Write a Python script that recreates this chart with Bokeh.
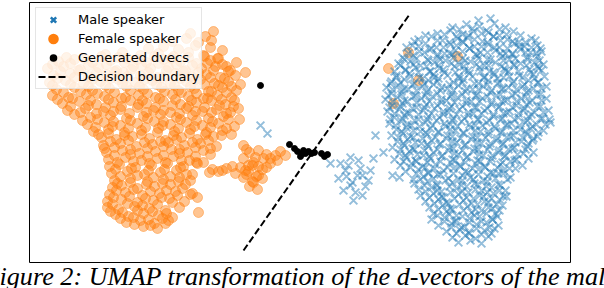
from bokeh.plotting import figure
from bokeh.models import Range1d, Legend, LegendItem, ColumnDataSource, Title
from bokeh.embed import file_html
from bokeh.resources import INLINE

# ---- data (UMAP coordinates) ----
female_x = [
    190, 205, 213,
    172, 186, 198, 211,
    148, 163, 178, 195, 210, 222,
    105, 122, 140, 158, 173, 188, 203, 217,
    58, 74, 92, 110, 127, 146, 163, 180, 196, 210, 226,
    47, 63, 80, 98, 116, 133, 150, 168, 185, 201, 215, 230, 245,
    53, 70, 88, 106, 123, 140, 157, 175, 191, 206, 220, 235,
    49, 65, 83, 100, 118, 135, 152, 170, 186, 200, 214, 228, 240,
    56, 74, 92, 109, 126, 143, 161, 178, 194, 208, 222, 236,
    52, 68, 86, 104, 121, 138, 155, 172, 188, 203, 217, 231,
    62, 79, 96, 113, 130, 146, 163, 180, 196, 211, 225, 238,
    67, 85, 103, 120, 137, 153, 170, 186, 202, 216, 230,
    74, 90, 110, 126, 143, 160, 176, 192, 208, 223, 239,
    87, 104, 120, 137, 154, 170, 186, 202, 218, 234,
    93, 108, 124, 141, 158, 174, 190, 206, 222,
    101, 116, 132, 149, 165, 181, 197, 213, 231,
    103, 120, 136, 152, 168, 184, 200, 216, 243,
    106, 122, 139, 155, 171, 187, 203, 249, 258, 266, 275,
    108, 125, 141, 157, 173, 189, 203, 243, 253, 263, 285,
    109, 119, 135, 151, 167, 183, 196, 212, 226, 240, 252, 266, 277,
    111, 127, 144, 160, 176, 192, 209, 222, 235, 248, 258,
    114, 130, 147, 163, 179, 190, 243, 252, 262,
    112, 121, 137, 154, 170, 185, 249, 257,
    109, 125, 142, 159, 175, 190,
    107, 121, 137, 153, 169, 184, 197,
    107, 118, 134, 149, 165, 179,
    115, 128, 143, 158, 172, 198,
    126, 140, 154, 168,
    143, 157,
    408, 388, 418, 393, 457,
]
female_y = [
    33, 36, 31,
    41, 38, 42, 40,
    48, 46, 49, 45, 47, 50,
    54, 52, 55, 53, 56, 52, 55, 58,
    61, 59, 62, 60, 58, 62, 59, 61, 63, 60, 66,
    68, 66, 69, 67, 70, 66, 68, 67, 70, 68, 66, 70, 72,
    75, 73, 76, 74, 72, 75, 77, 73, 76, 74, 77, 75,
    82, 80, 83, 81, 79, 82, 80, 83, 81, 79, 83, 81, 84,
    89, 87, 90, 88, 86, 89, 87, 90, 88, 91, 87, 90,
    95, 97, 94, 96, 98, 95, 97, 94, 96, 98, 95, 97,
    103, 101, 104, 102, 100, 103, 101, 104, 102, 100, 104, 108,
    110, 108, 111, 109, 107, 110, 112, 108, 111, 109, 112,
    114, 117, 115, 118, 116, 114, 117, 115, 118, 116, 119,
    124, 122, 125, 123, 121, 124, 122, 125, 123, 126,
    131, 129, 132, 130, 128, 131, 129, 132, 130,
    137, 139, 136, 138, 140, 137, 139, 136, 134,
    145, 143, 146, 144, 142, 145, 143, 146, 145,
    152, 150, 153, 151, 149, 152, 150, 152, 150, 154, 155,
    159, 157, 160, 158, 156, 160, 162, 158, 162, 158, 155,
    166, 164, 167, 165, 163, 166, 162, 169, 168, 167, 165, 167, 160,
    173, 171, 174, 172, 170, 174, 172, 170, 173, 171, 175,
    180, 178, 181, 179, 177, 180, 177, 181, 178,
    187, 185, 188, 186, 184, 184, 186, 189,
    194, 192, 195, 193, 191, 194,
    201, 199, 202, 200, 198, 201, 197,
    207, 209, 206, 208, 210, 207,
    214, 216, 213, 215, 217, 212,
    222, 220, 223, 220,
    226, 228,
    52, 68, 80, 103, 56,
]
female_x2 = [
    66, 84, 101, 118, 137, 154, 171, 188, 204, 218,
    52, 70, 88, 106, 124, 141, 158, 176, 192, 207, 222, 236,
    60, 78, 96, 114, 131, 148, 166, 183, 198, 213, 228,
    57, 74, 92, 110, 127, 144, 162, 180, 195, 210, 224,
    52, 70, 88, 105, 122, 139, 156, 174, 190, 204, 218, 231,
    63, 80, 97, 114, 130, 147, 164, 181, 196, 211, 226,
    57, 72, 90, 108, 125, 142, 159, 175, 191, 207, 221, 234,
    70, 88, 105, 121, 138, 155, 172, 188, 204, 219, 233,
    80, 96, 113, 129, 146, 163, 179, 195, 211, 226,
    82, 97, 113, 130, 147, 163, 180, 196, 212, 228,
    95, 112, 128, 145, 162, 178, 194, 210, 226,
    98, 108, 124, 141, 157, 173, 189, 205, 221,
    110, 128, 144, 160, 176, 192, 208,
    104, 114, 130, 147, 163, 179, 195, 210, 246,
    114, 130, 147, 163, 179, 195, 210, 255, 270, 280,
    117, 133, 149, 165, 181, 197, 248, 258, 270,
    115, 131, 148, 164, 180, 218, 232, 245, 262,
    120, 137, 153, 170, 186, 246, 256,
    117, 130, 146, 162, 178, 253,
    116, 133, 150, 166, 182,
    113, 129, 145, 161, 177, 192,
    112, 127, 142, 157, 172,
    110, 122, 137, 152, 166,
    120, 133, 148, 162,
    134, 150, 165,
]
female_y2 = [
    57, 58, 56, 57, 59, 56, 58, 57, 56, 58,
    64, 63, 65, 64, 62, 65, 63, 64, 65, 63, 64, 62,
    71, 70, 72, 71, 69, 72, 70, 71, 72, 70, 71,
    78, 77, 79, 78, 76, 79, 77, 78, 79, 77, 78,
    85, 84, 86, 85, 83, 86, 84, 85, 86, 84, 85, 86,
    92, 91, 93, 92, 90, 93, 91, 92, 93, 91, 92,
    99, 98, 100, 99, 97, 100, 98, 99, 100, 98, 99, 100,
    106, 105, 107, 106, 104, 107, 105, 106, 107, 105, 106,
    112, 113, 111, 113, 112, 110, 113, 111, 112, 113,
    120, 119, 121, 120, 118, 121, 119, 120, 121, 119,
    127, 126, 128, 127, 125, 128, 126, 127, 128,
    134, 133, 135, 134, 132, 135, 133, 134, 135,
    141, 140, 142, 141, 139, 142, 140,
    148, 147, 149, 148, 146, 149, 147, 148, 149,
    155, 154, 156, 155, 153, 156, 154, 157, 158, 151,
    162, 161, 163, 162, 160, 163, 165, 166, 163,
    169, 168, 170, 169, 167, 171, 166, 170, 169,
    176, 175, 177, 176, 174, 174, 176,
    183, 182, 184, 183, 181, 182,
    190, 189, 191, 190, 188,
    197, 196, 198, 197, 195, 193,
    204, 203, 205, 204, 202,
    211, 212, 210, 211, 213,
    218, 217, 219, 218,
    224, 225, 223,
]

male_x = [
    260, 267, 330,
    375, 383, 373, 350, 345, 357, 368, 343, 355, 362, 353, 340, 348, 360, 338, 352, 365, 346, 358, 370, 350, 362,
    478, 490,
    452, 466, 479, 494, 505,
    437, 450, 462, 473, 488, 499, 513,
    418, 431, 442, 457, 467, 482, 493, 507, 518, 531,
    412, 425, 436, 450, 463, 474, 488, 499, 514, 524, 537,
    419, 429, 444, 455, 469, 480, 495, 505, 520, 530, 541,
    402, 413, 427, 437, 452, 462, 477, 487, 502, 512, 527, 537,
    398, 410, 420, 434, 445, 459, 470, 484, 495, 509, 520, 534, 543,
    405, 415, 429, 439, 454, 464, 479, 489, 504, 514, 529, 538,
    396, 409, 419, 433, 444, 458, 469, 483, 494, 508, 519, 533, 544,
    391, 404, 414, 428, 438, 453, 463, 478, 488, 503, 513, 528, 538,
    386, 398, 408, 422, 433, 447, 458, 472, 483, 497, 508, 522, 533, 546,
    391, 401, 415, 426, 440, 451, 465, 476, 490, 501, 515, 526, 540,
    385, 397, 407, 421, 432, 446, 457, 471, 482, 496, 507, 521, 532, 546,
    392, 402, 416, 426, 441, 451, 466, 476, 491, 501, 516, 526, 540,
    387, 399, 409, 423, 434, 448, 459, 473, 484, 498, 509, 523, 534, 548,
    394, 404, 418, 428, 443, 453, 468, 478, 493, 503, 518, 528, 542,
    389, 401, 411, 425, 436, 450, 461, 475, 486, 500, 511, 525, 536, 550,
    396, 406, 420, 430, 445, 455, 470, 480, 495, 505, 520, 530, 543,
    391, 403, 413, 427, 438, 452, 463, 477, 488, 502, 513, 527, 537,
    397, 407, 421, 431, 446, 456, 471, 481, 496, 506, 521, 532,
    392, 404, 414, 428, 439, 453, 464, 478, 489, 503, 514, 527,
    399, 409, 423, 433, 448, 458, 473, 483, 498, 508, 523, 533,
    394, 406, 416, 430, 441, 455, 466, 480, 491, 505, 516, 528,
    400, 411, 425, 435, 450, 460, 475, 485, 500, 510, 522,
    405, 418, 428, 443, 453, 468, 478, 493, 503, 515,
    392, 399, 413, 423, 437, 448, 462, 473, 487, 498, 510,
    414, 427, 437, 452, 462, 477, 487, 500,
    418, 431, 441, 456, 466, 481, 491, 505,
    420, 433, 443, 458, 468, 483, 493, 506,
    425, 438, 448, 463, 473, 488, 499,
    429, 442, 452, 467, 477, 492, 502,
    433, 446, 456, 471, 481, 495,
    431, 444, 454, 469, 479, 492,
    438, 451, 461, 476, 486, 498,
    446, 459, 469, 484, 494,
    452, 465, 475, 488,
    458, 470, 481,
]
male_y = [
    125, 133, 163,
    135, 152, 158, 157, 170, 175, 180, 190, 192, 195, 200, 163, 165, 168, 178, 182, 186, 176, 160, 170, 185, 175,
    20, 18,
    27, 24, 26, 23, 27,
    33, 30, 34, 31, 32, 35, 31,
    39, 36, 40, 38, 37, 41, 36, 39, 42, 38,
    45, 43, 47, 44, 42, 46, 44, 47, 43, 46, 45,
    51, 49, 53, 50, 48, 52, 50, 53, 49, 52, 51,
    57, 55, 59, 56, 54, 58, 55, 59, 56, 53, 57, 56,
    63, 61, 65, 62, 60, 64, 61, 65, 62, 59, 63, 62, 64,
    69, 67, 71, 68, 66, 70, 67, 71, 68, 65, 69, 68,
    75, 73, 77, 74, 72, 76, 73, 77, 74, 71, 75, 74, 76,
    81, 79, 83, 80, 78, 82, 79, 83, 80, 77, 81, 80, 82,
    87, 85, 89, 86, 84, 88, 85, 89, 86, 83, 87, 86, 88, 86,
    93, 91, 95, 92, 90, 94, 91, 95, 92, 89, 93, 92, 94,
    99, 97, 101, 98, 96, 100, 97, 101, 98, 95, 99, 98, 100, 98,
    105, 103, 107, 104, 102, 106, 103, 107, 104, 101, 105, 104, 106,
    111, 109, 113, 110, 108, 112, 109, 113, 110, 107, 111, 110, 112, 110,
    117, 115, 119, 116, 114, 118, 115, 119, 116, 113, 117, 116, 118,
    123, 121, 125, 122, 120, 124, 121, 125, 122, 119, 123, 122, 124, 122,
    129, 127, 131, 128, 126, 130, 127, 131, 128, 125, 129, 128, 130,
    135, 133, 137, 134, 132, 136, 133, 137, 134, 131, 135, 134, 136,
    141, 139, 143, 140, 138, 142, 139, 143, 140, 137, 141, 140,
    147, 145, 149, 146, 144, 148, 145, 149, 146, 143, 147, 146,
    153, 151, 155, 152, 150, 154, 151, 155, 152, 149, 153, 152,
    159, 157, 161, 158, 156, 160, 157, 161, 158, 155, 159, 158,
    165, 163, 167, 164, 162, 166, 163, 167, 164, 161, 165,
    171, 169, 173, 170, 168, 172, 169, 173, 170, 168,
    175, 177, 179, 176, 174, 178, 175, 179, 176, 173, 177,
    183, 181, 185, 182, 180, 184, 181, 185,
    189, 187, 191, 188, 186, 190, 187, 190,
    195, 193, 197, 194, 192, 196, 193, 196,
    201, 199, 203, 200, 198, 202, 199,
    207, 205, 209, 206, 204, 208, 205,
    213, 211, 215, 212, 210, 213,
    219, 217, 221, 218, 216, 219,
    225, 223, 227, 224, 222, 225,
    231, 229, 233, 230, 228,
    237, 235, 238, 236,
    242, 240, 243,
]
male_x2 = [
    459, 472, 486, 499,
    425, 444, 456, 468, 481, 493, 506, 520,
    414, 437, 449, 462, 474, 487, 500, 512, 525, 535,
    406, 418, 431, 443, 456, 469, 481, 494, 507, 519, 531, 540,
    408, 424, 437, 449, 462, 475, 487, 500, 512, 525, 536,
    404, 416, 428, 440, 453, 465, 478, 490, 503, 515, 527, 539,
    400, 413, 426, 438, 451, 463, 476, 488, 501, 513, 526, 537,
    394, 405, 418, 430, 443, 455, 468, 480, 493, 505, 518, 530, 541,
    396, 410, 422, 434, 447, 459, 472, 484, 497, 509, 522, 534,
    390, 400, 412, 424, 437, 449, 462, 474, 487, 499, 512, 524, 537,
    392, 404, 416, 428, 441, 453, 466, 478, 491, 503, 516, 528, 541,
    388, 401, 413, 425, 437, 450, 462, 475, 487, 500, 512, 525, 537,
    392, 404, 416, 429, 441, 454, 466, 479, 491, 504, 516, 529, 541,
    389, 400, 412, 424, 437, 449, 462, 474, 487, 499, 512, 524, 537,
    394, 406, 418, 431, 443, 456, 468, 481, 493, 506, 518, 531, 543,
    390, 402, 414, 427, 439, 452, 464, 477, 489, 502, 514, 527, 540, 549,
    395, 407, 419, 432, 444, 457, 469, 482, 494, 507, 519, 532, 545,
    401, 413, 425, 438, 450, 463, 475, 488, 500, 513, 525, 538,
    398, 410, 422, 435, 447, 460, 472, 485, 497, 510, 522, 533,
    403, 415, 427, 440, 452, 465, 477, 490, 502, 515, 528,
    400, 412, 424, 437, 449, 462, 474, 487, 499, 512, 525,
    405, 417, 429, 442, 454, 467, 479, 492, 504, 517,
    403, 415, 427, 440, 452, 465, 477, 490, 502, 514,
    410, 422, 434, 447, 459, 472, 484, 497, 509,
    416, 428, 440, 453, 465, 478, 490, 503,
    420, 433, 445, 458, 470, 483, 495, 507,
    424, 436, 449, 461, 474, 486, 498,
    425, 437, 450, 462, 475, 487, 499,
    429, 441, 454, 466, 479, 491, 503,
    434, 446, 459, 471, 484, 496,
    438, 450, 463, 475, 488, 499,
    437, 449, 462, 474, 486, 497,
    444, 456, 469, 481, 492,
    451, 464, 476, 489,
    456, 468, 481, 491,
]
male_y2 = [
    29, 28, 30, 29,
    35, 34, 36, 35, 33, 36, 34, 35,
    41, 40, 42, 41, 39, 42, 40, 41, 42, 40,
    47, 46, 48, 47, 45, 48, 46, 47, 48, 46, 47, 48,
    53, 52, 54, 53, 51, 54, 52, 53, 54, 52, 53,
    59, 58, 60, 59, 57, 60, 58, 59, 60, 58, 59, 60,
    65, 64, 66, 65, 63, 66, 64, 65, 66, 64, 65, 66,
    71, 70, 72, 71, 69, 72, 70, 71, 72, 70, 71, 72, 70,
    77, 76, 78, 77, 75, 78, 76, 77, 78, 76, 77, 78,
    83, 82, 84, 83, 81, 84, 82, 83, 84, 82, 83, 84, 82,
    89, 88, 90, 89, 87, 90, 88, 89, 90, 88, 89, 90, 88,
    95, 94, 96, 95, 93, 96, 94, 95, 96, 94, 95, 96, 94,
    101, 100, 102, 101, 99, 102, 100, 101, 102, 100, 101, 102, 100,
    107, 106, 108, 107, 105, 108, 106, 107, 108, 106, 107, 108, 106,
    113, 112, 114, 113, 111, 114, 112, 113, 114, 112, 113, 114, 112,
    119, 118, 120, 119, 117, 120, 118, 119, 120, 118, 119, 120, 118, 119,
    125, 124, 126, 125, 123, 126, 124, 125, 126, 124, 125, 126, 124,
    131, 130, 132, 131, 129, 132, 130, 131, 132, 130, 131, 132,
    137, 136, 138, 137, 135, 138, 136, 137, 138, 136, 137, 138,
    143, 142, 144, 143, 141, 144, 142, 143, 144, 142, 143,
    149, 148, 150, 149, 147, 150, 148, 149, 150, 148, 149,
    155, 154, 156, 155, 153, 156, 154, 155, 156, 154,
    161, 160, 162, 161, 159, 162, 160, 161, 162, 160,
    167, 166, 168, 167, 165, 168, 166, 167, 168,
    173, 172, 174, 173, 171, 174, 172, 173,
    179, 178, 180, 179, 177, 180, 178, 179,
    185, 184, 186, 185, 183, 186, 184,
    191, 190, 192, 191, 189, 192, 190,
    197, 196, 198, 197, 195, 198, 196,
    203, 202, 204, 203, 201, 204,
    209, 208, 210, 209, 207, 210,
    215, 214, 216, 215, 213, 216,
    221, 220, 222, 221, 219,
    227, 226, 228, 227,
    233, 232, 234, 233,
]

gen_x = [260, 289, 294, 297, 300, 302, 303, 305, 308, 311, 314, 321, 324, 327]
gen_y = [85, 144, 148, 151, 156, 153, 150, 153, 151, 153, 152, 153, 156, 154]

boundary_x = [243, 409]
boundary_y = [250, 14]

labels = ["Male speaker", "Female speaker", "Generated dvecs", "Decision boundary"]
caption = "Figure 2: UMAP transformation of the d-vectors of the male and female speakers"

BLUE = "#1f77b4"
ORANGE = "#ff7f0e"

fx = female_x + female_x2
fy = female_y + female_y2
nf = min(len(fx), len(fy))
mx = male_x + male_x2
my = male_y + male_y2
nm = min(len(mx), len(my))

p = figure(width=604, height=288, output_backend="svg", toolbar_location=None,
           x_range=Range1d(29, 570), y_range=Range1d(262, 2),
           min_border_left=29, min_border_right=34, min_border_top=2, min_border_bottom=26)
p.xaxis.visible = False
p.yaxis.visible = False
p.xgrid.visible = False
p.ygrid.visible = False
p.outline_line_color = "black"
p.outline_line_width = 1
p.background_fill_color = "white"
p.border_fill_color = "white"

p.scatter(fx[:nf], fy[:nf], marker="circle", size=10, fill_color=ORANGE, line_color=ORANGE,
          fill_alpha=0.45, line_alpha=0.45, line_width=1)
p.scatter(mx[:nm], my[:nm], marker="x", size=11, line_color=BLUE, line_alpha=0.48, line_width=2)
p.scatter(gen_x, gen_y, marker="circle", size=6, fill_color="black", line_color="black")
p.line(boundary_x, boundary_y, line_color="black", line_width=2, line_dash="7 3")

# legend handles (full opacity, drawn off-range)
off = ColumnDataSource(data=dict(x=[-1000], y=[-1000]))
h1 = p.scatter("x", "y", source=off, marker="x", line_color=BLUE, line_width=2.5)
h2 = p.scatter("x", "y", source=off, marker="circle", fill_color=ORANGE, line_color=ORANGE, line_width=3)
h3 = p.scatter("x", "y", source=off, marker="circle", fill_color="black", line_color=None)
h4 = p.line("x", "y", source=off, line_color="black", line_width=2, line_dash="7 3")

legend = Legend(items=[LegendItem(label=labels[0], renderers=[h1]),
                       LegendItem(label=labels[1], renderers=[h2]),
                       LegendItem(label=labels[2], renderers=[h3]),
                       LegendItem(label=labels[3], renderers=[h4])],
                location=(6, 173), margin=0, padding=2, spacing=0,
                glyph_height=19, label_height=19, glyph_width=30, label_standoff=10,
                label_text_font="DejaVu Sans", label_text_font_size="13px", label_text_color="black",
                border_line_color="#cccccc", border_line_width=1,
                background_fill_color="white", background_fill_alpha=0.8)
p.add_layout(legend)

p.add_layout(Title(text=caption, align="left", offset=-46, standoff=-6,
                   text_font="Liberation Serif", text_font_style="italic",
                   text_font_size="26.2px", text_color="black"), "below")

open("out.html", "w").write(file_html(p, INLINE))
